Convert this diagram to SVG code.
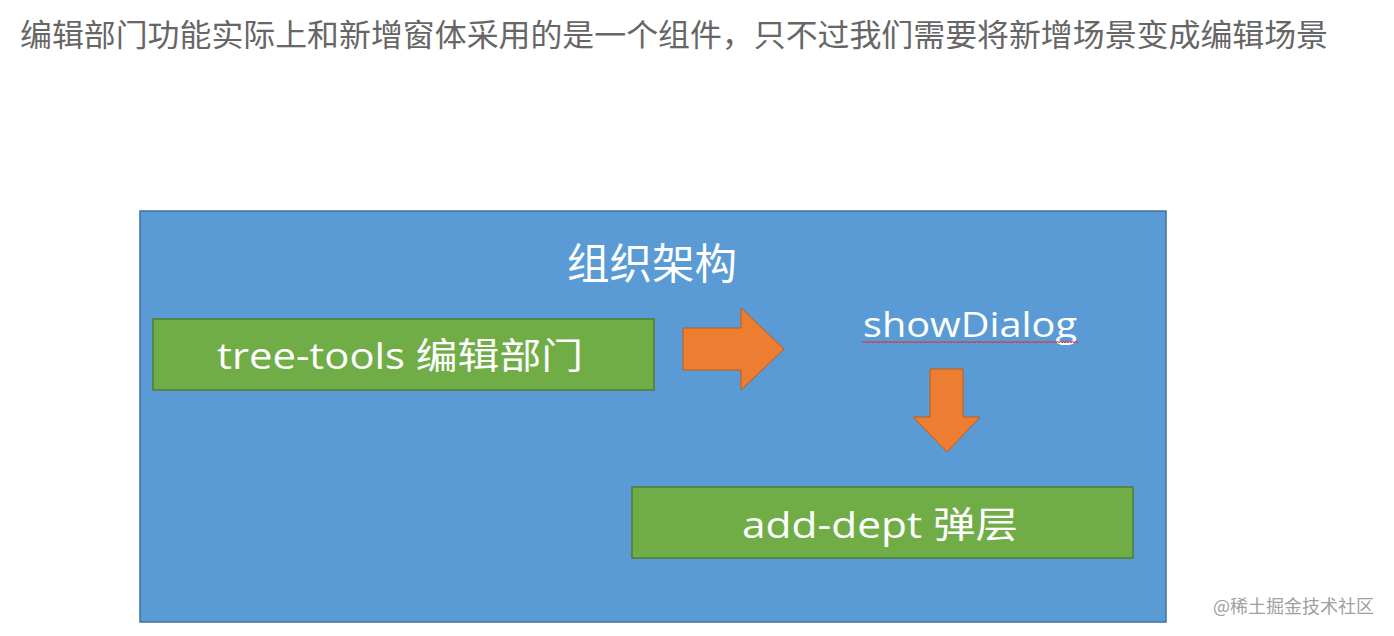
<svg xmlns="http://www.w3.org/2000/svg" width="1394" height="636" viewBox="0 0 1394 636">
<style>
.cjk{font-family:"Noto Sans CJK SC","Liberation Sans",sans-serif}
.lbl{font-family:"Open Sans","Noto Sans CJK SC",sans-serif;fill:#fff;font-size:36px;text-anchor:middle}
.box{fill:#70ad47;stroke:#507e32;stroke-width:1.5}
.arrow{fill:#ed7d31;stroke:#c55a11;stroke-width:1}
</style>
<defs>
<pattern id="wave" width="6" height="4" patternUnits="userSpaceOnUse">
<path d="M0 3 L1.5 1 L3 3 L4.5 1 L6 3" fill="none" stroke="#e03030" stroke-width="1"/>
</pattern>
</defs>
<rect width="1394" height="636" fill="#fff"/>
<text class="cjk" x="20" y="46" font-size="31" fill="#666" textLength="1308" lengthAdjust="spacingAndGlyphs">编辑部门功能实际上和新增窗体采用的是一个组件，只不过我们需要将新增场景变成编辑场景</text>
<g id="container">
<rect x="140" y="211" width="1026" height="411" fill="#5b9bd5" stroke="#41719c" stroke-width="1.5"/>
<text class="lbl" x="652" y="279" style="font-size:42px" textLength="170" lengthAdjust="spacingAndGlyphs">组织架构</text>
</g>
<g id="tree-tools">
<rect class="box" x="153" y="319" width="501" height="71"/>
<text class="lbl" x="400" y="369" textLength="366" lengthAdjust="spacingAndGlyphs">tree-tools 编辑部门</text>
</g>
<g id="showDialog">
<text class="lbl" x="970" y="337" style="font-size:34px" textLength="214" lengthAdjust="spacingAndGlyphs">showDialog</text>
<rect x="862" y="339" width="216" height="4" fill="url(#wave)"/>
</g>
<g id="add-dept">
<rect class="box" x="632" y="487" width="501" height="71"/>
<text class="lbl" x="880" y="538" textLength="276" lengthAdjust="spacingAndGlyphs">add-dept 弹层</text>
</g>
<g id="connectors">
<polygon class="arrow" points="683,328 741,328 741,308 784,349 741,390 741,370 683,370"/>
<polygon class="arrow" points="930,369 963,369 963,417 980,417 947,452 913,417 930,417"/>
</g>
<text class="cjk" x="1213" y="613" font-size="18" fill="#a0a0a0">@稀土掘金技术社区</text>
</svg>
